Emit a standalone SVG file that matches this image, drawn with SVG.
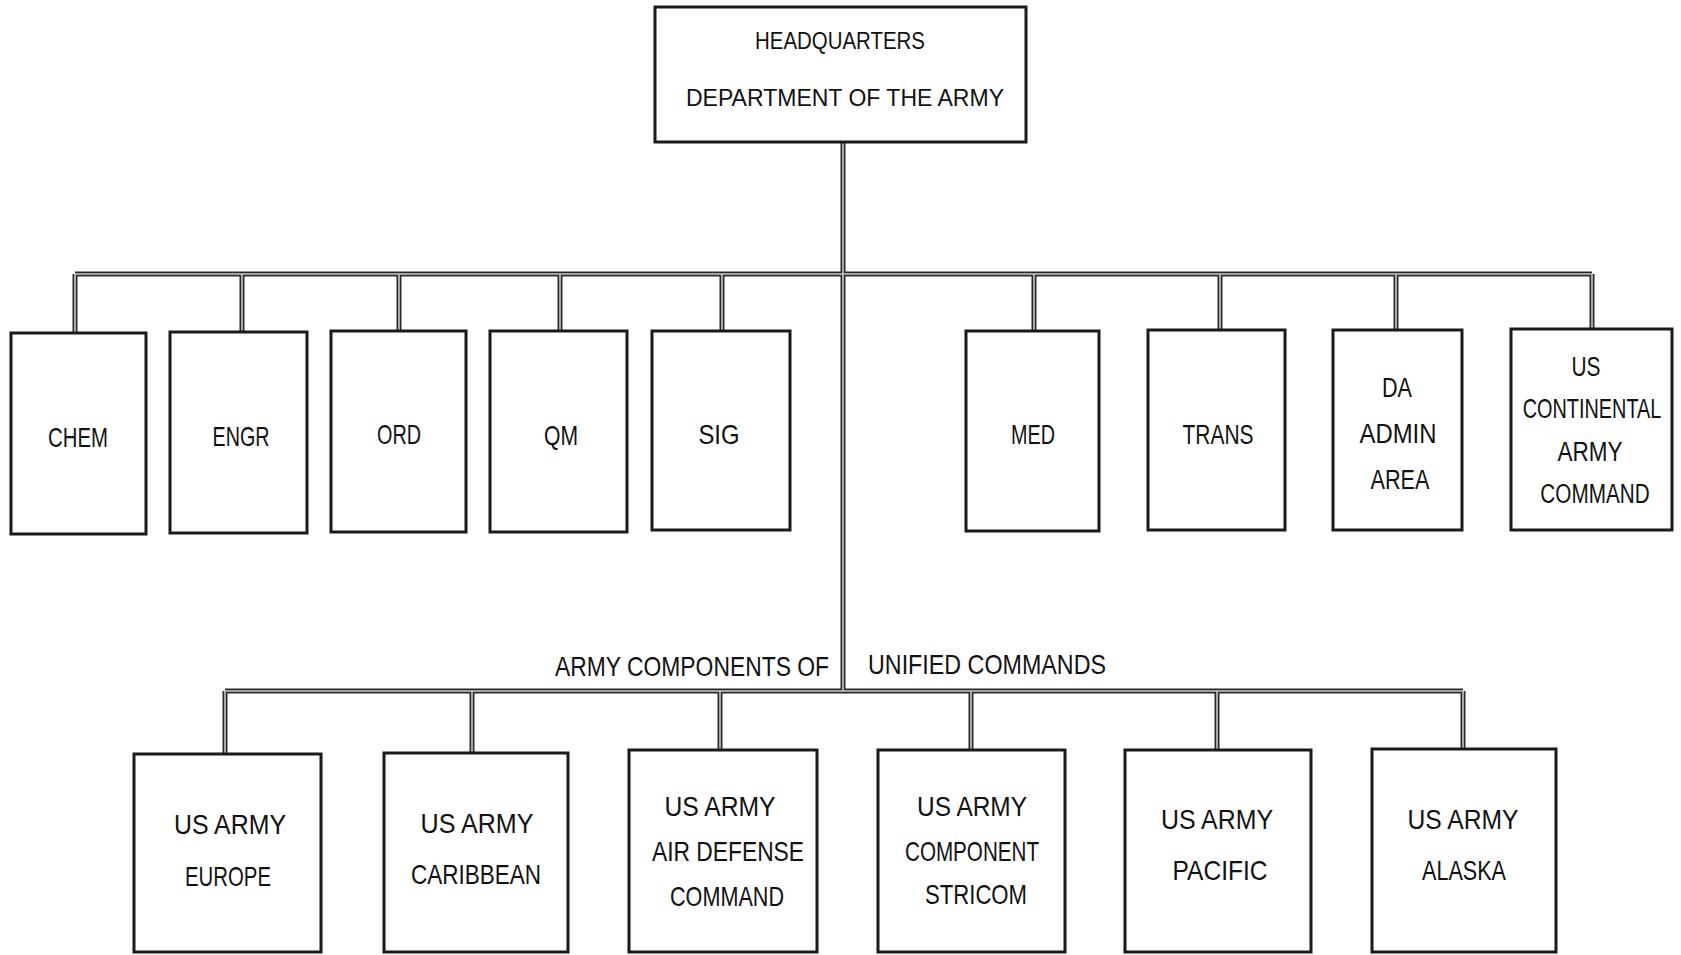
<svg xmlns="http://www.w3.org/2000/svg" xmlns:xlink="http://www.w3.org/1999/xlink" width="1681" height="955" viewBox="0 0 1681 955">
<style>
.box{fill:#fff;stroke:#1a1a1a;stroke-width:3}
.t{font-family:"Liberation Sans",Arial,sans-serif;fill:#111;text-anchor:middle}
.s2{font-size:28px}
.s3{font-size:28px}
.hq{font-size:24px}
.outer{fill:none;stroke:#2a2a2a;stroke-width:5}
.inner{fill:none;stroke:#c8c8c8;stroke-width:1.6}
</style>
<defs>
<path id="wires" d="M843,142 V691 M75,274 H1592 M75,274 V333 M242,274 V332 M399,274 V331 M560,274 V331 M722,274 V331 M1034,274 V331 M1220,274 V330 M1396,274 V330 M1592,274 V329 M225,691 H1463 M225,691 V754 M472,691 V753 M720,691 V750 M971,691 V750 M1217,691 V750 M1463,691 V749"/>
</defs>
<rect width="1681" height="955" fill="#fff"/>
<g id="connectors">
<use xlink:href="#wires" class="outer"/>
<use xlink:href="#wires" class="inner"/>
</g>
<g id="hq">
<rect class="box" x="655" y="7" width="371" height="135"/>
<text class="t hq" x="840" y="49" textLength="170" lengthAdjust="spacingAndGlyphs">HEADQUARTERS</text>
<text class="t hq" x="845" y="106" textLength="318" lengthAdjust="spacingAndGlyphs">DEPARTMENT  OF  THE  ARMY</text>
</g>
<g id="chem"><rect class="box" x="11" y="333" width="135" height="201"/><text class="t s2" x="78" y="447" textLength="60" lengthAdjust="spacingAndGlyphs">CHEM</text></g>
<g id="engr"><rect class="box" x="170" y="332" width="137" height="201"/><text class="t s2" x="241" y="446" textLength="57" lengthAdjust="spacingAndGlyphs">ENGR</text></g>
<g id="ord"><rect class="box" x="331" y="331" width="135" height="201"/><text class="t s2" x="399" y="444" textLength="44" lengthAdjust="spacingAndGlyphs">ORD</text></g>
<g id="qm"><rect class="box" x="490" y="331" width="137" height="201"/><text class="t s2" x="561" y="445" textLength="34" lengthAdjust="spacingAndGlyphs">QM</text></g>
<g id="sig"><rect class="box" x="652" y="331" width="138" height="199"/><text class="t s2" x="719" y="444" textLength="41" lengthAdjust="spacingAndGlyphs">SIG</text></g>
<g id="med"><rect class="box" x="966" y="331" width="133" height="200"/><text class="t s2" x="1033" y="444" textLength="44" lengthAdjust="spacingAndGlyphs">MED</text></g>
<g id="trans"><rect class="box" x="1148" y="330" width="137" height="200"/><text class="t s2" x="1218" y="444" textLength="71" lengthAdjust="spacingAndGlyphs">TRANS</text></g>
<g id="da-admin"><rect class="box" x="1333" y="330" width="129" height="200"/>
<text class="t s2" x="1397" y="397" textLength="30" lengthAdjust="spacingAndGlyphs">DA</text>
<text class="t s2" x="1398" y="443" textLength="77" lengthAdjust="spacingAndGlyphs">ADMIN</text>
<text class="t s2" x="1400" y="489" textLength="59" lengthAdjust="spacingAndGlyphs">AREA</text></g>
<g id="conarc"><rect class="box" x="1511" y="329" width="161" height="201"/>
<text class="t s2" x="1586" y="376" textLength="29" lengthAdjust="spacingAndGlyphs">US</text>
<text class="t s2" transform="translate(1592,418) scale(0.71,1)" x="0" y="0">CONTINENTAL</text>
<text class="t s2" x="1590" y="461" textLength="65" lengthAdjust="spacingAndGlyphs">ARMY</text>
<text class="t s2" transform="translate(1595,503) scale(0.74,1)" x="0" y="0">COMMAND</text></g>
<g id="bus-label">
<text class="t s3" x="692" y="676" textLength="274" lengthAdjust="spacingAndGlyphs">ARMY  COMPONENTS  OF</text>
<text class="t s3" x="987" y="674" textLength="238" lengthAdjust="spacingAndGlyphs">UNIFIED  COMMANDS</text>
</g>
<g id="europe"><rect class="box" x="134" y="754" width="187" height="198"/>
<text class="t s3" x="230" y="834" textLength="112" lengthAdjust="spacingAndGlyphs">US  ARMY</text>
<text class="t s3" x="228" y="886" textLength="86" lengthAdjust="spacingAndGlyphs">EUROPE</text></g>
<g id="caribbean"><rect class="box" x="384" y="753" width="184" height="199"/>
<text class="t s3" x="477" y="833" textLength="113" lengthAdjust="spacingAndGlyphs">US  ARMY</text>
<text class="t s3" x="476" y="884" textLength="130" lengthAdjust="spacingAndGlyphs">CARIBBEAN</text></g>
<g id="air-defense"><rect class="box" x="629" y="750" width="188" height="202"/>
<text class="t s3" x="720" y="816" textLength="111" lengthAdjust="spacingAndGlyphs">US  ARMY</text>
<text class="t s3" x="728" y="861" textLength="152" lengthAdjust="spacingAndGlyphs">AIR  DEFENSE</text>
<text class="t s3" x="727" y="906" textLength="114" lengthAdjust="spacingAndGlyphs">COMMAND</text></g>
<g id="stricom"><rect class="box" x="878" y="750" width="187" height="202"/>
<text class="t s3" x="972" y="816" textLength="110" lengthAdjust="spacingAndGlyphs">US  ARMY</text>
<text class="t s3" x="972" y="861" textLength="134" lengthAdjust="spacingAndGlyphs">COMPONENT</text>
<text class="t s3" x="976" y="904" textLength="102" lengthAdjust="spacingAndGlyphs">STRICOM</text></g>
<g id="pacific"><rect class="box" x="1125" y="750" width="186" height="202"/>
<text class="t s3" x="1217" y="829" textLength="112" lengthAdjust="spacingAndGlyphs">US  ARMY</text>
<text class="t s3" x="1220" y="880" textLength="95" lengthAdjust="spacingAndGlyphs">PACIFIC</text></g>
<g id="alaska"><rect class="box" x="1372" y="749" width="184" height="203"/>
<text class="t s3" x="1463" y="829" textLength="111" lengthAdjust="spacingAndGlyphs">US  ARMY</text>
<text class="t s3" x="1464" y="880" textLength="84" lengthAdjust="spacingAndGlyphs">ALASKA</text></g>
</svg>
